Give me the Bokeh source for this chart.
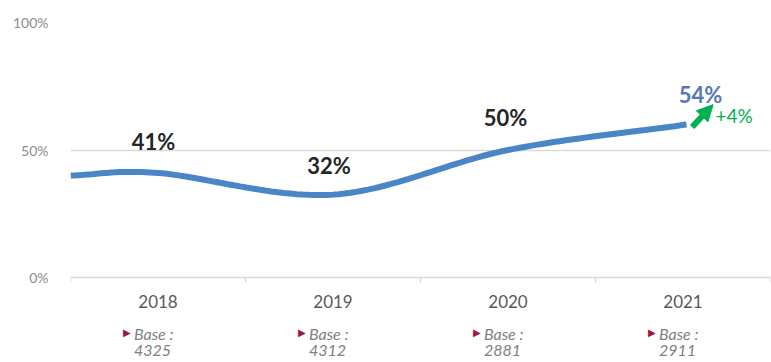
from bokeh.plotting import figure
from bokeh.models import Range1d, FixedTicker, Label, Arrow, NormalHead, ColumnDataSource
from bokeh.core.properties import value
from bokeh.embed import file_html
from bokeh.resources import INLINE

# ---- data ----
years = ["2018", "2019", "2020", "2021"]
bases = ["4325", "4312", "2881", "2911"]
value_labels = ["41%", "32%", "50%", "54%"]
# line (category position, percent)
line_x = [0.0, 0.5, 1.5, 2.5, 3.52]
line_y = [40, 41, 32.5, 50, 60]
change_label = "+4%"
y_ticks = [0, 50, 100]

FONT = "Lato"
PX = 2.55  # pixels per percent

p = figure(width=771, height=362, output_backend="svg", toolbar_location=None,
           x_range=Range1d(0, 4), y_range=Range1d(-85 / PX, 100),
           min_border_left=70, min_border_right=1, min_border_top=22, min_border_bottom=0)
p.outline_line_color = None
p.xaxis.visible = False

# y axis
p.yaxis.ticker = FixedTicker(ticks=y_ticks)
p.yaxis.major_label_overrides = {t: f"{t}%" for t in y_ticks}
p.yaxis.axis_line_color = None
p.yaxis.major_tick_line_color = None
p.yaxis.minor_tick_line_color = None
p.yaxis.major_label_standoff = 16
p.yaxis.major_label_text_font = FONT
p.yaxis.major_label_text_font_size = "14px"
p.yaxis.major_label_text_color = "#8c8c8c"

p.xgrid.grid_line_color = None
p.ygrid.grid_line_color = "#d9d9d9"
p.ygrid.grid_line_width = 1.5

centers = [i + 0.5 for i in range(len(years))]
bounds = list(range(len(years) + 1))

# category boundary ticks below the 0% line
p.segment(x0=bounds, y0=[0] * len(bounds), x1=bounds, y1=[-5 / PX] * len(bounds),
          line_color="#d9d9d9", line_width=1.5)

# smooth curve (Catmull-Rom through the read points)
def catmull(xs, ys, n=30):
    px = [xs[0] - (xs[1] - xs[0])] + xs + [xs[-1] + (xs[-1] - xs[-2])]
    py = [ys[0] - (ys[1] - ys[0])] + ys + [ys[-1] + (ys[-1] - ys[-2])]
    ox, oy = [], []
    for i in range(1, len(px) - 2):
        for k in range(n):
            t = k / n
            t2, t3 = t * t, t * t * t
            def f(a):
                return 0.5 * ((2 * a[i]) + (-a[i - 1] + a[i + 1]) * t +
                              (2 * a[i - 1] - 5 * a[i] + 4 * a[i + 1] - a[i + 2]) * t2 +
                              (-a[i - 1] + 3 * a[i] - 3 * a[i + 1] + a[i + 2]) * t3)
            ox.append(f(px)); oy.append(f(py))
    ox.append(xs[-1]); oy.append(ys[-1])
    return ox, oy

cx, cy = catmull(line_x, line_y)
p.line(cx, cy, line_color="#4a86c5", line_width=6, line_cap="butt")

# value labels
lab_pos = [(0.474, 53.2), (1.477, 43.8), (2.486, 62.6), (3.6, 71.6)]
for i, (txt, (lx, ly)) in enumerate(zip(value_labels, lab_pos)):
    col = "#5878b3" if i == len(value_labels) - 1 else "#262626"
    p.add_layout(Label(x=lx, y=ly, text=txt, text_align="center", text_baseline="middle",
                       text_font=FONT, text_font_style="bold", text_font_size="22px",
                       text_color=col))

# change arrow and label
p.add_layout(Arrow(x_start=3.552, y_start=59.0, x_end=3.672, y_end=67.8,
                   line_color="#00b050", line_width=6,
                   end=NormalHead(size=16, fill_color="#00b050", line_color="#00b050")))
p.add_layout(Label(x=3.686, y=63.4, text=change_label, text_align="left", text_baseline="middle",
                   text_font=FONT, text_font_size="19px", text_color="#00b050"))

# year labels and base labels below the 0% line
src = ColumnDataSource(dict(x=centers, year=years, base=bases,
                            tri=["\u25B6"] * len(years), blab=["Base :"] * len(years)))
p.text(x="x", y=-23.5 / PX, text="year", source=src, text_align="center",
       text_baseline="middle", text_font=value(FONT), text_font_size="17px",
       text_color="#595959")
p.text(x="x", y=-55 / PX, text="tri", source=src, x_offset=-35, text_align="left",
       text_baseline="middle", text_font=value("DejaVu Sans"), text_font_size="10px",
       text_color="#a0183e")
p.text(x="x", y=-56 / PX, text="blab", source=src, x_offset=-24, text_align="left",
       text_baseline="middle", text_font=value(FONT), text_font_style="italic",
       text_font_size="16px", text_color="#808080")
p.text(x="x", y=-73 / PX, text="base", source=src, x_offset=-24, text_align="left",
       text_baseline="middle", text_font=value(FONT), text_font_style="italic",
       text_font_size="16px", text_color="#808080")

open("out.html", "w").write(file_html(p, INLINE))
